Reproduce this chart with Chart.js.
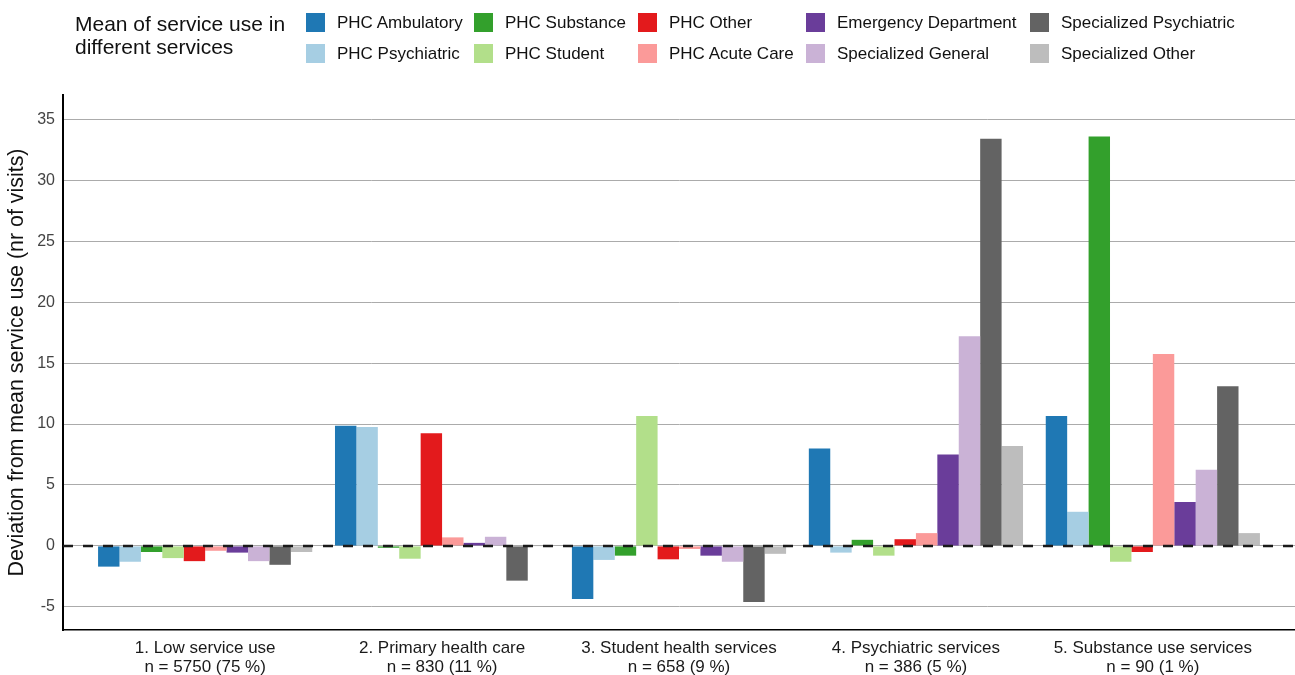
<!DOCTYPE html>
<html>
<head>
<meta charset="utf-8">
<script src="https://cdn.jsdelivr.net/npm/chart.js@4"></script>
<style>
  html, body { margin: 0; padding: 0; background: #fff; }
  body { width: 1295px; height: 675px; position: relative; overflow: hidden; font-family: 'Liberation Sans', Arial, sans-serif; }
  #chartBox { position: absolute; left: 0; top: 0; width: 1295px; height: 675px; }
  #legendTitle { position: absolute; left: 75px; top: 12px; font-size: 21px; line-height: 23px; color: #111; }
  .item { position: absolute; font-size: 17px; color: #111; line-height: 19px; height: 19px; white-space: nowrap; }
  .item span.box { position: absolute; left: 0; top: 0; width: 19px; height: 19px; }
  .item span.txt { position: absolute; left: 31px; top: 0; }
</style>
</head>
<body>
<div id="chartBox"><canvas id="devChart" width="1295" height="675"></canvas></div>
<div id="legendTitle">Mean of service use in<br>different services</div>
<div id="legend"></div>
<script>
// Groups (x axis) and their sizes
const groupNames = ['1. Low service use', '2. Primary health care', '3. Student health services', '4. Psychiatric services', '5. Substance use services'];
const groupSizes = ['n = 5750 (75 %)', 'n = 830 (11 %)', 'n = 658 (9 %)', 'n = 386 (5 %)', 'n = 90 (1 %)'];

// Services, in the order the bars appear inside a group
const serviceNames = ['PHC Ambulatory', 'PHC Psychiatric', 'PHC Substance', 'PHC Student', 'PHC Other',
  'PHC Acute Care', 'Emergency Department', 'Specialized General', 'Specialized Psychiatric', 'Specialized Other'];
const serviceColors = ['#1f78b4', '#a6cee3', '#33a02c', '#b2df8a', '#e31a1c',
  '#fb9a99', '#6a3d9a', '#cab2d6', '#636363', '#bdbdbd'];

// Deviation from mean service use, one array per service (values per group 1..5)
const phcAmbulatory = [-1.7, 9.85, -4.35, 8.0, 10.65];
const phcPsychiatric = [-1.3, 9.75, -1.15, -0.55, 2.8];
const phcSubstance = [-0.5, -0.15, -0.8, 0.5, 33.6];
const phcStudent = [-1.0, -1.05, 10.65, -0.8, -1.3];
const phcOther = [-1.25, 9.25, -1.1, 0.55, -0.5];
const phcAcuteCare = [-0.4, 0.7, -0.25, 1.05, 15.75];
const emergencyDept = [-0.55, 0.25, -0.8, 7.5, 3.6];
const specGeneral = [-1.25, 0.75, -1.3, 17.2, 6.25];
const specPsychiatric = [-1.55, -2.85, -4.6, 33.4, 13.1];
const specOther = [-0.5, -0.05, -0.65, 8.2, 1.05];

const yTicks = [-5, 0, 5, 10, 15, 20, 25, 30, 35];

const seriesValues = [phcAmbulatory, phcPsychiatric, phcSubstance, phcStudent, phcOther,
  phcAcuteCare, emergencyDept, specGeneral, specPsychiatric, specOther];

const FONT = "'Liberation Sans', Arial, sans-serif";

// Legend is filled column by column, two rows
const legendCols = [306, 474, 638, 806, 1030];
const legendRows = [13, 44];
const legendEl = document.getElementById('legend');
serviceNames.forEach((name, i) => {
  const col = Math.floor(i / 2);
  const row = i % 2;
  const div = document.createElement('div');
  div.className = 'item';
  div.style.left = legendCols[col] + 'px';
  div.style.top = legendRows[row] + 'px';
  div.innerHTML = `<span class="box" style="background:${serviceColors[i]}"></span><span class="txt">${name}</span>`;
  legendEl.appendChild(div);
});

// Dashed line at zero, drawn over the bars
const zeroLine = {
  id: 'zeroLine',
  afterDatasetsDraw(chart) {
    const ctx = chart.ctx;
    const y = chart.scales.y.getPixelForValue(0);
    ctx.save();
    ctx.strokeStyle = '#1a1a1a';
    ctx.lineWidth = 2.5;
    ctx.setLineDash([10, 10]);
    ctx.beginPath();
    ctx.moveTo(chart.chartArea.left, y);
    ctx.lineTo(chart.chartArea.right, y);
    ctx.stroke();
    ctx.restore();
  }
};

const datasets = serviceNames.map((name, i) => ({
  label: name,
  data: seriesValues[i].map((v, g) => ({ x: g, y: v })),
  backgroundColor: serviceColors[i],
  borderColor: serviceColors[i],
  borderWidth: 0,
  categoryPercentage: 0.904,
  barPercentage: 1.0
}));

new Chart(document.getElementById('devChart').getContext('2d'), {
  type: 'bar',
  data: { datasets: datasets },
  plugins: [zeroLine],
  options: {
    responsive: false,
    animation: false,
    layout: { padding: { top: 95, left: 0, right: 0, bottom: 0 } },
    plugins: {
      legend: { display: false },
      tooltip: { enabled: false }
    },
    scales: {
      x: {
        type: 'linear',
        min: -0.6,
        max: 4.6,
        offset: false,
        afterBuildTicks: scale => { scale.ticks = groupNames.map((n, i) => ({ value: i })); },
        afterFit: scale => { scale.height = 45; },
        grid: { display: false, drawTicks: false },
        border: { display: true, color: '#000', width: 1.5 },
        ticks: {
          padding: 9,
          color: '#1a1a1a',
          font: { family: FONT, size: 17, lineHeight: 1.12 },
          callback: value => [groupNames[value], groupSizes[value]]
        }
      },
      y: {
        min: -6.9,
        max: 37,
        afterBuildTicks: scale => { scale.ticks = yTicks.map(v => ({ value: v })); },
        afterFit: scale => { scale.width = 63; },
        grid: { color: '#ababab', lineWidth: 1, drawTicks: false },
        border: { display: true, color: '#000', width: 2 },
        title: {
          display: true,
          text: 'Deviation from mean service use (nr of visits)',
          color: '#111',
          font: { family: FONT, size: 21.4 },
          padding: { top: 4, bottom: 2 }
        },
        ticks: {
          padding: 8,
          color: '#444',
          font: { family: FONT, size: 16 }
        }
      }
    }
  }
});
</script>
</body>
</html>
